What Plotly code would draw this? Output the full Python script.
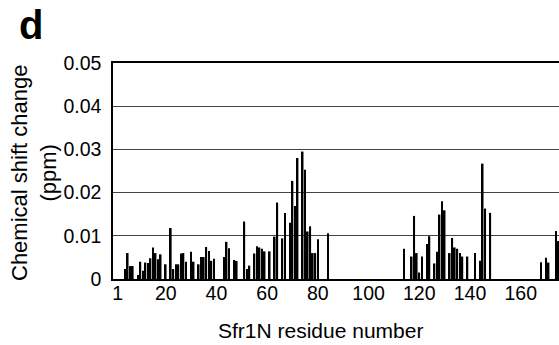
import plotly.graph_objects as go

# Residue numbers and chemical shift changes (ppm)
residues = [4, 5, 6, 7, 9, 10, 11, 12, 13, 14, 15, 16, 17, 18, 20, 22, 23, 24, 25,
            26, 27, 28, 30, 31, 33, 34, 35, 36, 37, 38, 39, 43, 44, 45, 47, 48,
            51, 52, 53, 55, 56, 57, 58, 59, 61, 63, 64, 66, 67, 69, 70, 71, 72,
            74, 75, 76, 77, 78, 79, 80, 84,
            114, 117, 118, 119, 120, 121, 123, 124, 126, 127, 128, 129, 130,
            132, 133, 134, 135, 136, 137, 139, 142, 144, 145, 146, 148,
            168, 170, 171, 174, 175]
shifts = [0.0023, 0.0060, 0.0030, 0.0030, 0.0009, 0.0040, 0.0019, 0.0038, 0.0037, 0.0048,
          0.0073, 0.0060, 0.0046, 0.0057, 0.0034, 0.0118, 0.0023, 0.0034, 0.0034,
          0.0059, 0.0060, 0.0040, 0.0063, 0.0040, 0.0034, 0.0051, 0.0051, 0.0074, 0.0065,
          0.0042, 0.0047, 0.0051, 0.0086, 0.0071, 0.0044, 0.0042,
          0.0133, 0.0023, 0.0031, 0.0059, 0.0076, 0.0073, 0.0070, 0.0064, 0.0064, 0.0098,
          0.0177, 0.0094, 0.0153, 0.0130, 0.0227, 0.0169, 0.0280,
          0.0295, 0.0253, 0.0110, 0.0122, 0.0060, 0.0060, 0.0092, 0.0106,
          0.0070, 0.0052, 0.0146, 0.0060, 0.0015, 0.0052, 0.0081, 0.0099, 0.0036, 0.0063,
          0.0149, 0.0180, 0.0159,
          0.0060, 0.0095, 0.0073, 0.0070, 0.0060, 0.0052, 0.0052, 0.0060, 0.0042, 0.0267,
          0.0163, 0.0153,
          0.0039, 0.0049, 0.0038, 0.0111, 0.0088]

x_ticks = [1, 20, 40, 60, 80, 100, 120, 140, 160]
y_ticks = [0, 0.01, 0.02, 0.03, 0.04, 0.05]
y_tick_labels = ["0", "0.01", "0.02", "0.03", "0.04", "0.05"]

FONT = "Arial, Liberation Sans, sans-serif"

fig = go.Figure()
fig.add_trace(go.Bar(x=residues, y=shifts, width=0.65,
                     marker=dict(color="black", line=dict(width=0))))

fig.update_layout(
    width=559, height=345,
    margin=dict(l=113, r=0, t=63, b=66),
    paper_bgcolor="white", plot_bgcolor="white",
    showlegend=False,
    font=dict(family=FONT, color="black"),
    xaxis=dict(range=[-0.8, 175.1], tickvals=x_ticks, ticktext=[str(v) for v in x_ticks],
               showgrid=False, zeroline=False, showline=True, linecolor="black",
               linewidth=1.5, mirror=True, ticks="", tickfont=dict(size=19.5),
               ticklabelstandoff=-4),
    yaxis=dict(range=[0, 0.05], tickvals=y_ticks, ticktext=y_tick_labels,
               showgrid=True, gridcolor="#444444", gridwidth=1, zeroline=False,
               showline=True, linecolor="black", linewidth=1.5, mirror=False,
               ticks="", tickfont=dict(size=19.5), ticklabelstandoff=6),
    annotations=[
        dict(text="Sfr1N residue number", xref="paper", yref="paper",
             x=(320 - 113) / 446, y=-(330 - 279) / 216, xanchor="center", yanchor="middle",
             showarrow=False, font=dict(size=21, family=FONT)),
        dict(text="Chemical shift change<br>(ppm)", xref="paper", yref="paper",
             x=(34 - 113) / 446, y=(279 - 173) / 216, xanchor="center", yanchor="middle",
             textangle=-90, showarrow=False, font=dict(size=22, family=FONT)),
        dict(text="<b>d</b>", xref="paper", yref="paper",
             x=(17 - 113) / 446, y=(279 - 25) / 216, xanchor="left", yanchor="middle",
             showarrow=False, font=dict(size=40, family=FONT)),
    ],
)

fig.write_html("out.html")
